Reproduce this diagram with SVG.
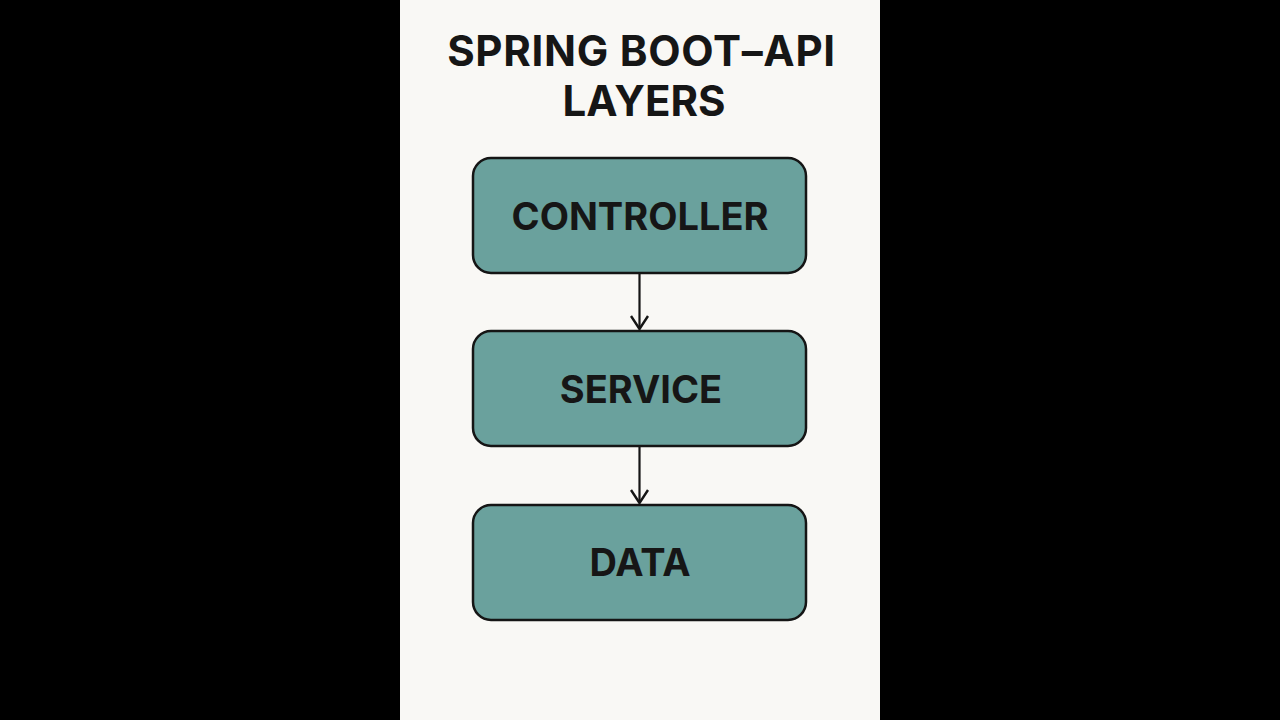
<svg xmlns="http://www.w3.org/2000/svg" width="1280" height="720" viewBox="0 0 1280 720">
<defs>
<style>
.t{font-family:Inter,"Liberation Sans",Arial,sans-serif;font-weight:700;fill:#161616;text-anchor:middle;font-size:42px}
.box{fill:#6aa19d;stroke:#151515;stroke-width:2.5}
.lbl{font-family:Inter,"Liberation Sans",Arial,sans-serif;font-weight:700;fill:#161616;text-anchor:middle;font-size:38px}
.con{stroke:#151515;stroke-width:2.2;fill:none}
</style>
<marker id="arr" viewBox="0 0 20 20" refX="17" refY="10" markerWidth="20" markerHeight="20" markerUnits="userSpaceOnUse" orient="auto">
<path d="M4 1.5 L17 10 L4 18.5" fill="none" stroke="#151515" stroke-width="2.4"/>
</marker>
</defs>
<rect x="0" y="0" width="1280" height="720" fill="#000"/>
<rect x="400" y="0" width="480" height="720" fill="#f9f8f5"/>
<g id="title">
<text class="t" x="641.5" y="66" letter-spacing="0.7">SPRING BOOT–API</text>
<text class="t" x="644" y="116">LAYERS</text>
</g>
<g id="controller">
<rect class="box" x="473" y="158" width="333" height="115" rx="18"/>
<text class="lbl" x="640" y="230">CONTROLLER</text>
</g>
<g id="service">
<rect class="box" x="473" y="331" width="333" height="115" rx="18"/>
<text class="lbl" x="641" y="403">SERVICE</text>
</g>
<g id="data">
<rect class="box" x="473" y="505" width="333" height="115" rx="18"/>
<text class="lbl" x="640" y="576">DATA</text>
</g>
<g id="connectors">
<path class="con" d="M639.5 274 V329" marker-end="url(#arr)"/>
<path class="con" d="M639.5 447 V503" marker-end="url(#arr)"/>
</g>
</svg>
